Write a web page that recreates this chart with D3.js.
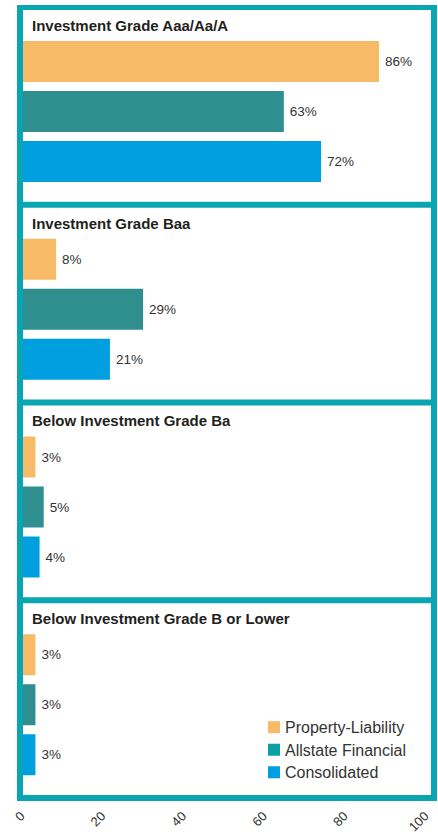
<!DOCTYPE html>
<html>
<head>
<meta charset="utf-8">
<script src="https://cdn.jsdelivr.net/npm/d3@7"></script>
<style>
  html, body { margin: 0; padding: 0; background: #fff; }
  svg { display: block; font-family: "Liberation Sans", Arial, sans-serif; }
</style>
</head>
<body>
<div id="chart"></div>
<script>
const categories = [
  "Investment Grade Aaa/Aa/A",
  "Investment Grade Baa",
  "Below Investment Grade Ba",
  "Below Investment Grade B or Lower"
];
const seriesNames = ["Property-Liability", "Allstate Financial", "Consolidated"];
const propertyLiability = [86, 8, 3, 3];
const allstateFinancial = [63, 29, 5, 3];
const consolidated = [72, 21, 4, 3];
const tickValues = [0, 20, 40, 60, 80, 100];

const barColors = ["#F7BA66", "#2E8F8E", "#00A0E0"];
const legendColors = ["#F7BA66", "#0E9FA6", "#00A0E0"];
const frameColor = "#09A6B2";

const W = 438, H = 834;
const svg = d3.select("#chart").append("svg").attr("width", W).attr("height", H);

const seriesValues = [propertyLiability, allstateFinancial, consolidated];

const x = d3.scaleLinear().domain([0, 100]).range([23, 437]);
const xAxisScale = x.copy().range([25, 429]);

const py = d3.scaleBand().domain(categories).range([10, 795]).paddingInner(0.0303).paddingOuter(0);
const by = d3.scaleBand().domain(seriesNames).range([31, 172]).paddingInner(0.18).paddingOuter(0);

// frame
svg.append("rect")
  .attr("x", 17).attr("y", py.range()[0] - 5)
  .attr("width", 420).attr("height", py.range()[1] - py.range()[0] + 11)
  .attr("fill", frameColor);

const panels = svg.selectAll("g.panel").data(categories).enter().append("g")
  .attr("class", "panel")
  .attr("transform", d => `translate(0,${py(d)})`);

panels.append("rect")
  .attr("x", 23).attr("y", 0)
  .attr("width", 408).attr("height", py.bandwidth())
  .attr("fill", "#fff");

panels.append("text")
  .attr("x", 32).attr("y", 21)
  .attr("font-size", 15).attr("font-weight", "bold").attr("fill", "#231f20")
  .text(d => d);

panels.each(function(cat, ci) {
  const g = d3.select(this);
  const rows = seriesNames.map((s, si) => ({ s, si, v: seriesValues[si][ci] }));
  g.selectAll("rect.bar").data(rows).enter().append("rect")
    .attr("class", "bar")
    .attr("x", x(0))
    .attr("y", d => by(d.s))
    .attr("width", d => x(d.v) - x(0))
    .attr("height", by.bandwidth())
    .attr("fill", d => barColors[d.si]);
  g.selectAll("text.val").data(rows).enter().append("text")
    .attr("class", "val")
    .attr("x", d => x(d.v) + 6)
    .attr("y", d => by(d.s) + by.bandwidth() / 2)
    .attr("dy", "0.35em")
    .attr("font-size", 13.5).attr("fill", "#333")
    .text(d => d.v + "%");
});

// legend in last panel
const lastTop = py(categories[categories.length - 1]);
const ly = d3.scaleBand().domain(seriesNames).range([lastTop + 117, lastTop + 176]).paddingInner(0.38).paddingOuter(0);
const legend = svg.append("g");
legend.selectAll("rect").data(seriesNames).enter().append("rect")
  .attr("x", 268).attr("y", d => ly(d) + ly.bandwidth()/2 - 6)
  .attr("width", 12).attr("height", 12)
  .attr("fill", (d, i) => legendColors[i]);
legend.selectAll("text").data(seriesNames).enter().append("text")
  .attr("x", 285).attr("y", d => ly(d) + ly.bandwidth()/2)
  .attr("dy", "0.36em")
  .attr("font-size", 16).attr("fill", "#333")
  .text(d => d);

// axis
const axis = d3.axisBottom(xAxisScale).tickValues(tickValues).tickSize(0).tickPadding(0);
const ag = svg.append("g").attr("transform", "translate(0,817)").call(axis);
ag.select(".domain").remove();
ag.selectAll("text")
  .attr("font-size", 13).attr("fill", "#333")
  .attr("font-family", "Liberation Sans, Arial, sans-serif")
  .attr("text-anchor", "end")
  .attr("dy", 0).attr("y", 0)
  .attr("transform", "rotate(-45)");
</script>
</body>
</html>
